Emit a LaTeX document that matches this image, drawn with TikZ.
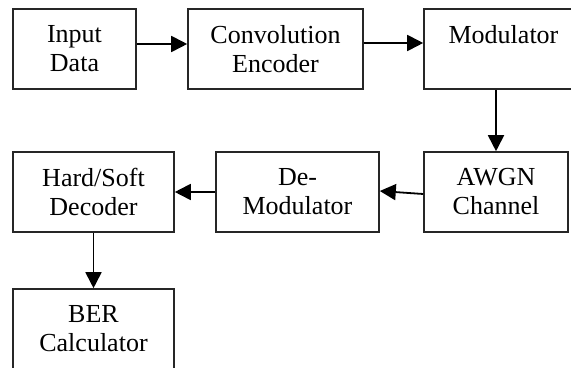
\documentclass[tikz,border=0pt]{standalone}
\usepackage{fontspec}
\setmainfont{Liberation Serif}
\usetikzlibrary{arrows.meta}

\begin{document}
\begin{tikzpicture}[x=0.5pt,y=-0.5pt,>={Triangle[length=8pt,width=8pt]},
                    line width=0.8pt,font=\fontsize{13}{14.5}\selectfont]
  \tikzstyle{block}=[draw=black!85,rectangle,align=center,minimum height=40pt,
                     inner sep=0pt,text=black]
  \tikzstyle{every edge}=[draw=black,line width=0.9pt,->]
  \useasboundingbox (0,0) rectangle (571,368);

  \node[block,minimum width=61.5pt] (in)  at (74.5,49)   {Input\\Data};
  \node[block,minimum width=87.5pt] (enc) at (275.5,49)  {Convolution\\Encoder};
  \node[block,minimum width=79.5pt] (mod) at (503.5,49)  {Modulator\\~};
  \node[block,minimum width=72pt]   (ch)  at (496,192)   {AWGN\\Channel};
  \node[block,minimum width=81.5pt] (dem) at (297.5,192) {De-\\Modulator};
  \node[block,minimum width=80.5pt] (dec) at (93.5,192)  {Hard/Soft\\Decoder};
  \node[block,minimum width=80.5pt] (ber) at (93.5,329)  {BER\\Calculator};

  \path ([yshift=2.5pt]in.east)  edge ([yshift=2.5pt]enc.west)
        ([yshift=3pt]enc.east)   edge ([yshift=3pt]mod.west)
        (mod.south -| ch.north)  edge (ch.north)
        ([yshift=-1pt]ch.west)   edge ([yshift=0.5pt]dem.east)
        (dem.west)               edge (dec.east)
        (dec.south)              edge (ber.north);
\end{tikzpicture}
\end{document}
